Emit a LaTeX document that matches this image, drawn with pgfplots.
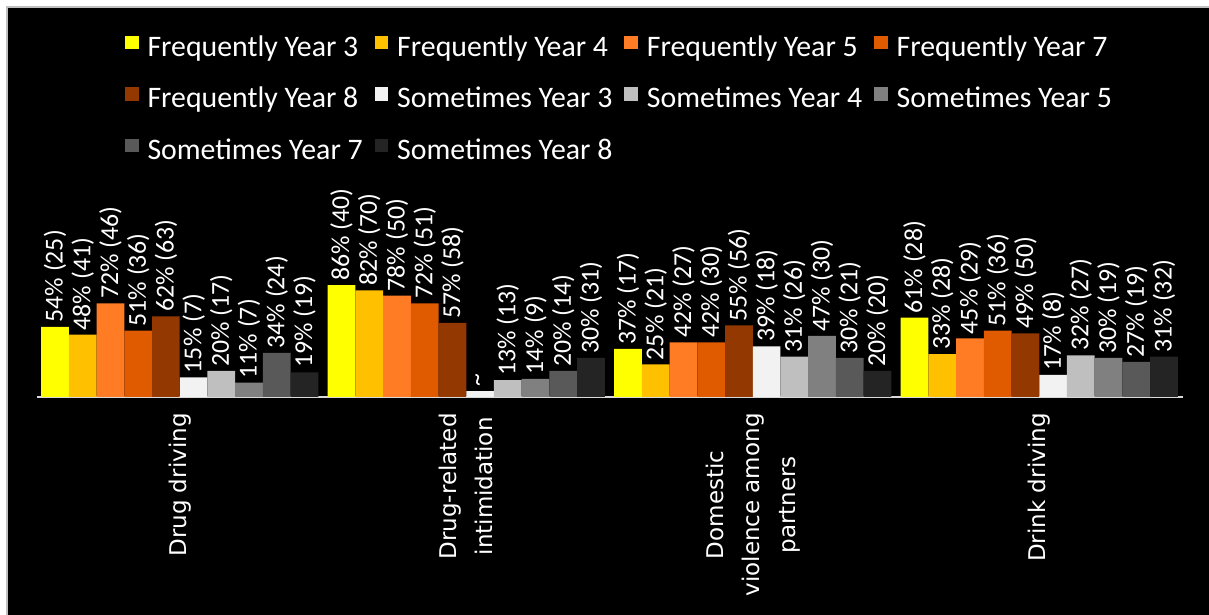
\documentclass[border=0pt]{standalone}
\usepackage{pgfplots}
\pgfplotsset{compat=1.18}
\usepackage{fontspec}
\setmainfont{Carlito}
\newfontfamily\xfont{DejaVu Sans}
\definecolor{fy3}{HTML}{FFFF00}
\definecolor{fy4}{HTML}{FFC000}
\definecolor{fy5}{HTML}{FF7C25}
\definecolor{fy7}{HTML}{E05A00}
\definecolor{fy8}{HTML}{933800}
\definecolor{sy3}{HTML}{F2F2F2}
\definecolor{sy4}{HTML}{BFBFBF}
\definecolor{sy5}{HTML}{808080}
\definecolor{sy7}{HTML}{595959}
\definecolor{sy8}{HTML}{242424}
\definecolor{lgray}{HTML}{D9D9D9}
\begin{document}
\begin{tikzpicture}
\useasboundingbox (0,0) rectangle (604.5pt,307.5pt);
\fill[white] (0,0) rectangle (604.5pt,307.5pt);
\fill[black] (3.5pt,0) rectangle (604.5pt,304pt);
\draw[gray!50, line width=0.7pt] (3.5pt,0) -- (3.5pt,304pt) -- (604.5pt,304pt);
\begin{axis}[
  at={(18.25pt,109pt)}, anchor=south west,
  scale only axis, width=573pt, height=65pt,
  xmin=-0.5, xmax=3.5, ymin=0, ymax=100,
  axis x line*=bottom, axis y line=none,
  x axis line style={draw=lgray, line width=1pt, -},
  xtick={0,1,2,3}, major tick length=0pt,
  xticklabels={Drug driving, {Drug-related\\intimidation}, {Domestic\\violence among\\partners}, Drink driving},
  x tick label style={rotate=90, anchor=east, align=center, font=\xfont\fontsize{11.5}{18}\selectfont, text=white, inner sep=0pt},
  xticklabel shift=8pt,
  ytick=\empty,
  ybar, bar width=0.0967,
  clip=false,
  nodes near coords, point meta=explicit symbolic,
  every node near coord/.append style={rotate=90, anchor=west, font=\fontsize{12.9}{14}\selectfont, text=white, inner sep=2pt},
  legend columns=4,
  legend cell align=left,
  legend style={at={(0,1)}, anchor=north west, xshift=44.25pt, yshift=115.5pt, draw=none, fill=none, text=white,
    font=\fontsize{14.9}{17}\selectfont, inner sep=0pt, outer sep=0pt, row sep=12.5pt,
    nodes={inner sep=0pt, text height=10pt, text depth=3pt},
    /tikz/every odd column/.append style={column sep=4.5pt},
    /tikz/every even column/.append style={column sep=6pt}},
  legend image code/.code={\fill[#1] (0pt,0pt) rectangle (6.75pt,6.75pt);},
]
\addplot[fill=fy3, draw=none, bar shift=-0.43515] coordinates {(0,54) [54\% (25)] (1,86) [86\% (40)] (2,37) [37\% (17)] (3,61) [61\% (28)]};
\addplot[fill=fy4, draw=none, bar shift=-0.33845] coordinates {(0,48) [48\% (41)] (1,82) [82\% (70)] (2,25) [25\% (21)] (3,33) [33\% (28)]};
\addplot[fill=fy5, draw=none, bar shift=-0.24175] coordinates {(0,72) [72\% (46)] (1,78) [78\% (50)] (2,42) [42\% (27)] (3,45) [45\% (29)]};
\addplot[fill=fy7, draw=none, bar shift=-0.14505] coordinates {(0,51) [51\% (36)] (1,72) [72\% (51)] (2,42) [42\% (30)] (3,51) [51\% (36)]};
\addplot[fill=fy8, draw=none, bar shift=-0.04835] coordinates {(0,62) [62\% (63)] (1,57) [57\% (58)] (2,55) [55\% (56)] (3,49) [49\% (50)]};
\addplot[fill=sy3, draw=none, bar shift=0.04835] coordinates {(0,15) [15\% (7)] (1,4.5) [\textasciitilde] (2,39) [39\% (18)] (3,17) [17\% (8)]};
\addplot[fill=sy4, draw=none, bar shift=0.14505] coordinates {(0,20) [20\% (17)] (1,13) [13\% (13)] (2,31) [31\% (26)] (3,32) [32\% (27)]};
\addplot[fill=sy5, draw=none, bar shift=0.24175] coordinates {(0,11) [11\% (7)] (1,14) [14\% (9)] (2,47) [47\% (30)] (3,30) [30\% (19)]};
\addplot[fill=sy7, draw=none, bar shift=0.33845] coordinates {(0,34) [34\% (24)] (1,20) [20\% (14)] (2,30) [30\% (21)] (3,27) [27\% (19)]};
\addplot[fill=sy8, draw=none, bar shift=0.43515] coordinates {(0,19) [19\% (19)] (1,30) [30\% (31)] (2,20) [20\% (20)] (3,31) [31\% (32)]};
\legend{Frequently Year 3, Frequently Year 4, Frequently Year 5, Frequently Year 7, Frequently Year 8, Sometimes Year 3, Sometimes Year 4, Sometimes Year 5, Sometimes Year 7, Sometimes Year 8}
\end{axis}
\end{tikzpicture}
\end{document}
